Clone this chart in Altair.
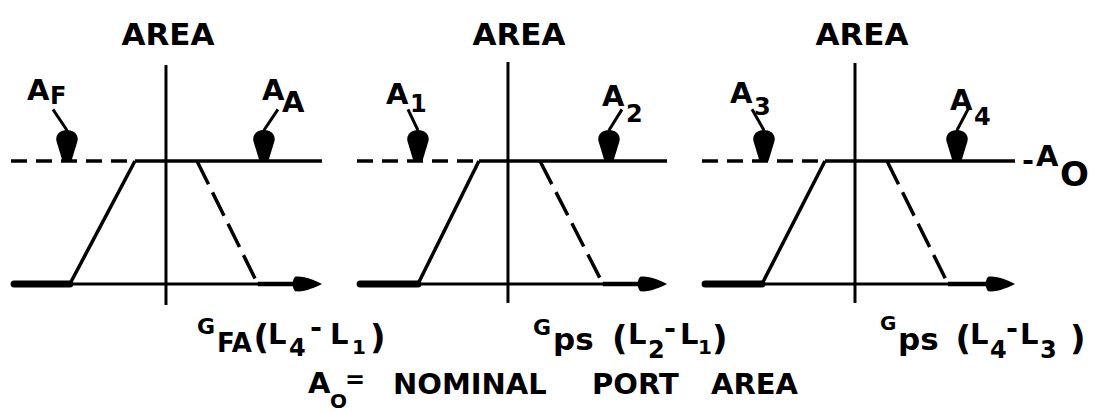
import altair as alt
import pandas as pd

# Diagram units: x measured in gain units from each panel's area axis,
# y measured in port area (0 = closed, 1 = nominal port area A0).
PANEL_ORIGIN = [0.0, 5.516, 11.113]

axis_left = [-2.50, -2.435, -2.468]
axis_tip = [2.516, 2.565, 2.581]
foot_left = [-1.55, -1.452, -1.50]
top_left = [-0.50, -0.468, -0.484]
top_right = [0.50, 0.516, 0.516]
foot_right = [1.48, 1.532, 1.50]
vert_low = [-0.171, -0.154, -0.154]
vert_high = [1.780, 1.805, 1.797]
A0 = 1.0

# Port-area markers (left / right of each panel) and their leader offsets
port_left = [-1.597, -1.452, -1.468]      # A_F, A_1, A_3
port_right = [1.580, 1.629, 1.645]        # A_A, A_2, A_4
leader_dx_left = [-0.226, -0.161, -0.193]
leader_dx_right = [0.226, 0.210, 0.177]
leader_top = 1.42
bulb_top = 1.25

# Lettering: text, x, y (diagram units), role
title_text = ["AREA", "AREA", "AREA"]
title_x = [0.032, 5.694, 11.226]
title_y = 1.943

label_text = [
    "A", "F", "A", "A", "A", "1", "A", "2", "A", "3", "A", "4",
    "-", "A", "O",
    "G", "FA", "(", "L", "4", "-", "L", "1", ")",
    "G", "ps", "(", "L", "2", "-", "L", "1", ")",
    "G", "ps", "(", "L", "4", "-", "L", "3", ")",
    "A", "O", "=", "NOMINAL", "PORT", "AREA",
]
label_x = [
    -2.242, -1.871, 1.548, 1.871, 3.548, 3.935, 7.032, 7.419, 9.097, 9.484, 12.645, 13.032,
    13.806, 14.032, 14.419,
    0.500, 0.823, 1.410, 1.645, 1.984, 2.323, 2.645, 3.000, 3.290,
    5.919, 6.242, 7.194, 7.452, 7.774, 8.032, 8.290, 8.581, 8.806,
    11.516, 11.806, 12.735, 12.968, 13.290, 13.548, 13.774, 14.097, 14.581,
    2.290, 2.645, 2.887, 3.661, 6.871, 8.790,
]
label_y = [
    1.496, 1.463, 1.496, 1.398, 1.463, 1.398, 1.447, 1.317, 1.472, 1.374, 1.415, 1.293,
    0.927, 0.959, 0.797,
    -0.407, -0.553, -0.528, -0.488, -0.585, -0.431, -0.488, -0.569, -0.528,
    -0.415, -0.537, -0.537, -0.488, -0.602, -0.439, -0.488, -0.569, -0.537,
    -0.374, -0.537, -0.537, -0.488, -0.602, -0.439, -0.488, -0.602, -0.537,
    -0.886, -1.008, -0.846, -0.894, -0.894, -0.894,
]
label_role = [
    "main", "sub", "main", "main", "main", "sub", "main", "sub", "main", "sub", "main", "sub",
    "main", "main", "big",
    "small", "word", "paren", "main", "sub", "main", "main", "tiny", "paren",
    "small", "ps", "paren", "main", "sub", "main", "main", "tiny", "paren",
    "tiny", "ps", "paren", "main", "sub", "main", "main", "sub", "paren",
    "legend", "tiny", "eq", "legend", "legend", "legend",
]

FONT = "DejaVu Sans"
ROLE_SIZE = {"main": 29, "sub": 24, "small": 22, "tiny": 20, "word": 26, "ps": 31,
             "paren": 34, "big": 34, "legend": 29, "eq": 24}

# ---------------------------------------------------------------- geometry
rows = []


def seg(layer, name, xs, ys):
    for i, (x, y) in enumerate(zip(xs, ys)):
        rows.append({"layer": layer, "seg": name, "i": i, "x": x, "y": y})


for p, o in enumerate(PANEL_ORIGIN):
    seg("dash_top", f"p{p}_a0_left", [o + axis_left[p], o + top_left[p]], [A0, A0])
    seg("solid", f"p{p}_a0_right", [o + top_left[p], o + axis_tip[p]], [A0, A0])
    seg("solid", f"p{p}_rise", [o + foot_left[p], o + top_left[p]], [0, A0])
    seg("dash_fall", f"p{p}_fall", [o + top_right[p], o + foot_right[p]], [A0, 0])
    seg("thick", f"p{p}_base_left", [o + axis_left[p] + 0.05, o + foot_left[p]], [0, 0])
    seg("axis", f"p{p}_base", [o + foot_left[p], o + axis_tip[p] - 0.3], [0, 0])
    seg("mid", f"p{p}_base_right", [o + foot_right[p], o + axis_tip[p] - 0.3], [0, 0])
    seg("axis", f"p{p}_vertical", [o, o], [vert_low[p], vert_high[p]])
    xl = o + port_left[p]
    xr = o + port_right[p]
    seg("leader", f"p{p}_lead_l", [xl + leader_dx_left[p], xl], [leader_top, bulb_top])
    seg("leader", f"p{p}_lead_r", [xr + leader_dx_right[p], xr], [leader_top, bulb_top])

lines = pd.DataFrame(rows)

markers = pd.DataFrame({
    "x": [o + v for o, v in zip(PANEL_ORIGIN, port_left)] + [o + v for o, v in zip(PANEL_ORIGIN, port_right)],
    "y": [A0] * 6,
})
arrows = pd.DataFrame({
    "x": [o + v for o, v in zip(PANEL_ORIGIN, axis_tip)],
    "y": [0.0] * 3,
})
titles = pd.DataFrame({"text": title_text, "x": title_x, "y": [title_y] * 3})
labels = pd.DataFrame({
    "text": label_text,
    "x": label_x,
    "y": label_y,
    "size": [ROLE_SIZE[r] for r in label_role],
})

# ---------------------------------------------------------------- scales
X = alt.Scale(domain=[-2.677, 14.984], nice=False, zero=False)
Y = alt.Scale(domain=[-1.041, 2.309], nice=False, zero=False)
xenc = alt.X("x:Q", scale=X, axis=None)
yenc = alt.Y("y:Q", scale=Y, axis=None)

INK = "#000000"


def line_layer(layer, width, dash=None, cap="butt"):
    kw = dict(color=INK, strokeWidth=width, strokeCap=cap, strokeJoin="round")
    if dash:
        kw["strokeDash"] = dash
    return (
        alt.Chart(lines)
        .transform_filter(alt.datum.layer == layer)
        .mark_line(**kw)
        .encode(x=xenc, y=yenc, detail="seg:N", order="i:Q")
    )


# Filled pointer (tip on the A0 line) and the axis arrowhead
BULB = "M-0.4,0 L0.4,0 L0.95,-1.8 C1.15,-3.1 -1.15,-3.1 -0.95,-1.8 Z"
ARROW = ("M0,0 C-0.6,-0.3 -1.6,-0.75 -2.4,-0.65 C-2.7,-0.3 -2.7,0.3 -2.4,0.65 "
         "C-1.6,0.75 -0.6,0.3 0,0 Z")

layers = [
    line_layer("dash_top", 3.5, [16, 9]),
    line_layer("solid", 3.5),
    line_layer("dash_fall", 3.5, [26, 9]),
    line_layer("thick", 7, cap="round"),
    line_layer("mid", 4.5),
    line_layer("axis", 3),
    line_layer("leader", 3),
    alt.Chart(markers).mark_point(shape=BULB, size=500, filled=True, opacity=1,
                                   color=INK, strokeWidth=0).encode(x=xenc, y=yenc),
    alt.Chart(arrows).mark_point(shape=ARROW, size=500, filled=True, opacity=1,
                                  color=INK, strokeWidth=0).encode(x=xenc, y=yenc),
    alt.Chart(titles).mark_text(font=FONT, fontWeight="bold", fontSize=31, align="center",
                                 baseline="alphabetic", color=INK)
    .encode(x=xenc, y=yenc, text="text:N"),
    alt.Chart(labels).mark_text(font=FONT, fontWeight="bold", align="left",
                                 baseline="alphabetic", color=INK)
    .encode(x=xenc, y=yenc, text="text:N", size=alt.Size("size:Q", scale=None)),
]

chart = (
    alt.layer(*layers)
    .properties(width=1095, height=412, padding=0, autosize=alt.AutoSizeParams(type="none"),
                background="white")
    .configure_view(stroke=None)
)

chart.save("out.html", embed_options={"renderer": "svg", "actions": False})
